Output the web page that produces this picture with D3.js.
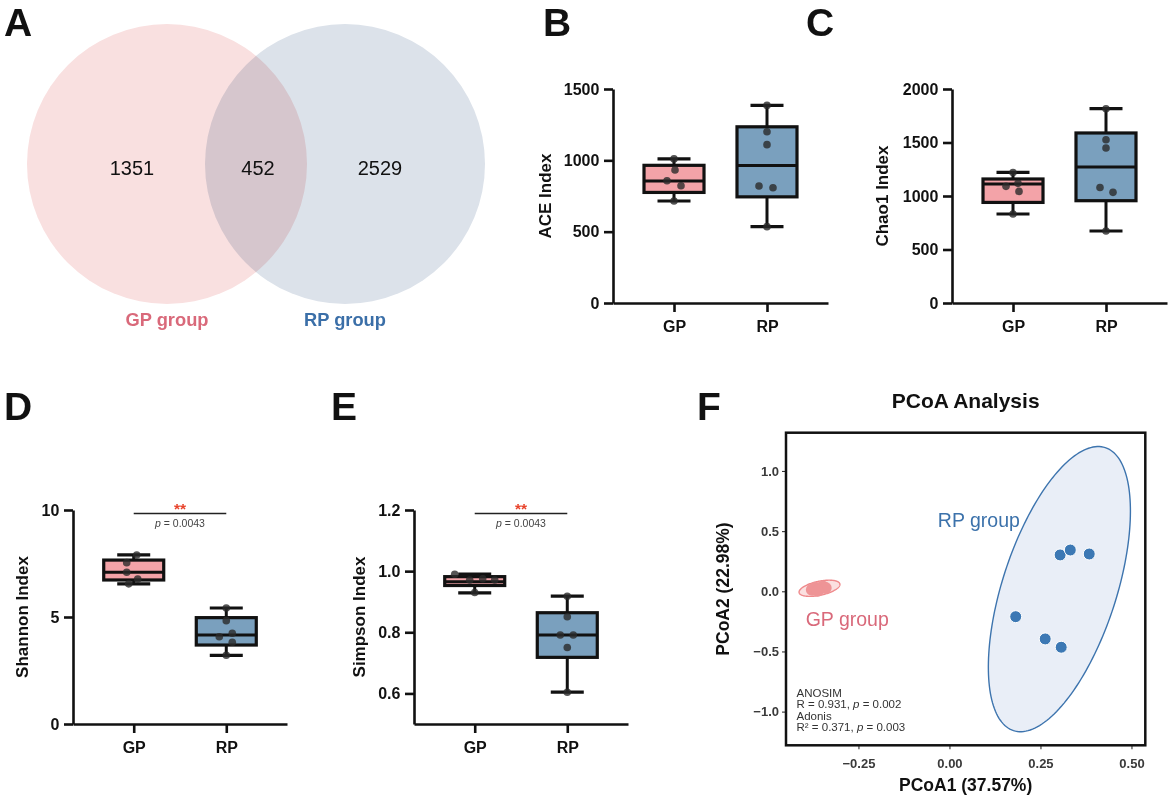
<!DOCTYPE html>
<html>
<head>
<meta charset="utf-8">
<title>Diversity panels</title>
<style type="text/css">
    body, html {margin:0;background:#fff;}
    svg {font-family:"Liberation Sans", Arial, sans-serif;}
</style>
<script src="https://cdn.jsdelivr.net/npm/d3@7/dist/d3.min.js"></script>
</head>
<body>
<script>
// ---- data ----
var groups = ["GP", "RP"];

// Venn (A)
var vennSets = ["GP group", "RP group"];
var vennCounts = [1351, 452, 2529];   // GP only, shared, RP only

// ACE (B)  box = [min, q1, median, q3, max]
var aceGP = [1010, 932, 857, 822, 715];
var aceRP = [1385, 1200, 1110, 820, 808, 535];
var aceBoxGP = [715, 775, 855, 965, 1010];
var aceBoxRP = [535, 744, 963, 1235, 1385];

// Chao1 (C)
var chaoGP = [1220, 1118, 1090, 1043, 832];
var chaoRP = [1816, 1526, 1449, 1080, 1034, 673];
var chaoBoxGP = [832, 940, 1112, 1159, 1220];
var chaoBoxRP = [673, 956, 1271, 1589, 1816];

// Shannon (D)
var shanGP = [7.9, 7.54, 7.09, 6.77, 6.55];
var shanRP = [5.42, 4.83, 4.24, 4.08, 3.82, 3.21];
var shanBoxGP = [6.55, 6.73, 7.09, 7.66, 7.9];
var shanBoxRP = [3.21, 3.69, 4.16, 4.97, 5.42];

// Simpson (E)
var simGP = [0.99, 0.975, 0.971, 0.971, 0.93];
var simRP = [0.918, 0.851, 0.791, 0.791, 0.75, 0.604];
var simBoxGP = [0.929, 0.953, 0.965, 0.982, 0.99];
var simBoxRP = [0.604, 0.718, 0.791, 0.864, 0.918];

var pText = "0.0043";

// PCoA (F)
var gpPc1 = [-0.378, -0.368, -0.357, -0.348, -0.34, -0.362];
var gpPc2 = [0.012, 0.03, 0.022, 0.04, 0.028, 0.005];
var rpPc1 = [0.304, 0.332, 0.384, 0.182, 0.263, 0.307];
var rpPc2 = [0.302, 0.343, 0.31, -0.211, -0.396, -0.465];
// ellipse: centre, then two conjugate half-axis vectors (data units)
var gpEllipse = [[-0.357, 0.025], [0.056, 0.036], [0.004, -0.057]];
var rpEllipse = [[0.302, 0.018], [0.126, 1.176], [0.149, -0.146]];
var pcoaStats = ["ANOSIM", "R = 0.931, |p| = 0.002", "Adonis", "R² = 0.371, |p| = 0.003"];

// ---- colours ----
var gpFill = "#f3a3a8", rpFill = "#7aa0be";
var gpText = "#d9697a", rpText = "#3b6fa8";

var svg = d3.select("body").append("svg").attr("width", 1170).attr("height", 806);

// panel letters
[["A", 4, 36], ["B", 543, 36], ["C", 806, 36], ["D", 4, 420], ["E", 331, 420], ["F", 697, 420]].forEach(function (l) {
    svg.append("text").attr("x", l[1]).attr("y", l[2]).text(l[0])
        .attr("font-size", 39).attr("font-weight", "bold").attr("fill", "#111");
});

// ---------- A: Venn ----------
(function () {
    var cy = 164, r = 140, c1 = 167, c2 = 345;
    var g = svg.append("g");
    g.append("circle").attr("cx", c1).attr("cy", cy).attr("r", r).attr("fill", "#f9e0e0");
    g.append("circle").attr("cx", c2).attr("cy", cy).attr("r", r).attr("fill", "#dce2ea")
        .style("mix-blend-mode", "multiply");
    var nx = [c1 - 35, (c1 + c2) / 2 + 2, c2 + 35];
    vennCounts.forEach(function (v, i) {
        g.append("text").attr("x", nx[i]).attr("y", 175).attr("text-anchor", "middle")
            .attr("font-size", 20).attr("fill", "#111").text(v);
    });
    [c1, c2].forEach(function (cx, i) {
        g.append("text").attr("x", cx).attr("y", 326).attr("text-anchor", "middle")
            .attr("font-size", 18.3).attr("font-weight", "bold")
            .attr("fill", i == 0 ? gpText : rpText).text(vennSets[i]);
    });
})();

// ---------- box panels ----------
function boxPanel(o) {
    var g = svg.append("g");
    var x = d3.scalePoint().domain(groups).range([o.x0, o.x1]).padding(0.656);
    var y = d3.scaleLinear().domain(o.domain).range([o.yBot, o.yTop]);

    var ya = g.append("g").attr("transform", "translate(" + o.x0 + ",0)")
        .call(d3.axisLeft(y).tickValues(o.ticks).tickSize(9).tickSizeOuter(0).tickFormat(d3.format(o.fmt)));
    var xa = g.append("g").attr("transform", "translate(0," + o.yBot + ")")
        .call(d3.axisBottom(x).tickSize(9).tickSizeOuter(0));
    [ya, xa].forEach(function (a) {
        a.select(".domain").attr("stroke", "#111").attr("stroke-width", 2.6);
        a.selectAll(".tick line").attr("stroke", "#111").attr("stroke-width", 2.6);
        a.selectAll(".tick text").attr("font-size", 16).attr("font-weight", "bold")
            .attr("fill", "#111").attr("font-family", null);
    });
    ya.selectAll(".tick text").attr("dx", "-0.1em");
    xa.selectAll(".tick text").attr("dy", "1.05em");

    g.append("text")
        .attr("transform", "translate(" + (o.x0 - o.labOff) + "," + (o.yTop + o.yBot) / 2 + ") rotate(-90)")
        .attr("text-anchor", "middle").attr("font-size", 17).attr("font-weight", "bold").attr("fill", "#111")
        .text(o.label);

    var boxW = 60, capW = 33;
    groups.forEach(function (grp, i) {
        var s = o.box[i], cx = x(grp);
        var bg = g.append("g");
        bg.append("line").attr("x1", cx).attr("x2", cx).attr("y1", y(s[0])).attr("y2", y(s[4]))
            .attr("stroke", "#111").attr("stroke-width", 3);
        [s[0], s[4]].forEach(function (v) {
            bg.append("line").attr("x1", cx - capW / 2).attr("x2", cx + capW / 2).attr("y1", y(v)).attr("y2", y(v))
                .attr("stroke", "#111").attr("stroke-width", 3.2);
        });
        bg.append("rect").attr("x", cx - boxW / 2).attr("width", boxW)
            .attr("y", y(s[3])).attr("height", y(s[1]) - y(s[3]))
            .attr("fill", i == 0 ? gpFill : rpFill).attr("stroke", "#111").attr("stroke-width", 3.2);
        bg.append("line").attr("x1", cx - boxW / 2).attr("x2", cx + boxW / 2).attr("y1", y(s[2])).attr("y2", y(s[2]))
            .attr("stroke", "#111").attr("stroke-width", 3);
        bg.selectAll("circle.pt").data(o.pts[i]).enter().append("circle").attr("class", "pt")
            .attr("cx", function (d, j) { return cx + o.jit[i][j]; })
            .attr("cy", function (d) { return y(d); })
            .attr("r", 3.8).attr("fill", "#2b2b2b").attr("fill-opacity", 0.8);
    });

    if (o.sig) {
        var sy = o.yTop + 3.5;
        g.append("line").attr("x1", x("GP")).attr("x2", x("RP")).attr("y1", sy).attr("y2", sy)
            .attr("stroke", "#222").attr("stroke-width", 1.4);
        g.append("text").attr("x", (x("GP") + x("RP")) / 2).attr("y", sy + 0.5).attr("text-anchor", "middle")
            .attr("font-size", 15.5).attr("font-weight", "bold").attr("fill", "#e8432b").text("**");
        var t = g.append("text").attr("x", (x("GP") + x("RP")) / 2).attr("y", sy + 13.8).attr("text-anchor", "middle")
            .attr("font-size", 10.5).attr("fill", "#444");
        t.append("tspan").attr("font-style", "italic").text("p");
        t.append("tspan").text(" = " + pText);
    }
}

boxPanel({x0: 613, x1: 828, yTop: 89, yBot: 303, domain: [0, 1500], ticks: [0, 500, 1000, 1500], fmt: "d",
    label: "ACE Index", labOff: 62, box: [aceBoxGP, aceBoxRP], pts: [aceGP, aceRP],
    jit: [[0, 1, -7, 7, 0], [0, 0, 0, -8, 6, 0]]});
boxPanel({x0: 952, x1: 1167, yTop: 89, yBot: 303, domain: [0, 2000], ticks: [0, 500, 1000, 1500, 2000], fmt: "d",
    label: "Chao1 Index", labOff: 64, box: [chaoBoxGP, chaoBoxRP], pts: [chaoGP, chaoRP],
    jit: [[0, 5, -7, 6, 0], [0, 0, 0, -6, 7, 0]]});
boxPanel({x0: 73, x1: 287, yTop: 510, yBot: 724, domain: [0, 10], ticks: [0, 5, 10], fmt: "d",
    label: "Shannon Index", labOff: 45, box: [shanBoxGP, shanBoxRP], pts: [shanGP, shanRP], sig: true,
    jit: [[3, -7, -7, 4, -5], [0, 0, 6, -7, 6, 0]]});
boxPanel({x0: 414, x1: 628, yTop: 510, yBot: 724, domain: [0.5, 1.2], ticks: [0.6, 0.8, 1.0, 1.2], fmt: ".1f",
    label: "Simpson Index", labOff: 49, box: [simBoxGP, simBoxRP], pts: [simGP, simRP], sig: true,
    jit: [[-20, 8, -5, 20, 0], [0, 0, -7, 6, 0, 0]]});

// ---------- F: PCoA ----------
(function () {
    var L = 786, R = 1145.3, T = 432.7, B = 745.3;
    var px = d3.scaleLinear().domain([-0.449, 0.538]).range([L, R]);
    var py = d3.scaleLinear().domain([-1.28, 1.318]).range([B, T]);
    var g = svg.append("g");

    function ellipsePath(e) {
        var pts = d3.range(0, 2 * Math.PI, Math.PI / 90).map(function (t) {
            return [px(e[0][0] + Math.cos(t) * e[1][0] + Math.sin(t) * e[2][0]),
                    py(e[0][1] + Math.cos(t) * e[1][1] + Math.sin(t) * e[2][1])];
        });
        return d3.line().curve(d3.curveLinearClosed)(pts);
    }
    g.append("path").attr("d", ellipsePath(rpEllipse)).attr("fill", "#e9eef7")
        .attr("stroke", "#3d74ae").attr("stroke-width", 1.4);
    g.append("path").attr("d", ellipsePath(gpEllipse)).attr("fill", "#fbe0e0")
        .attr("stroke", "#ef8a8c").attr("stroke-width", 1.4);

    g.selectAll("circle.gp").data(gpPc1).enter().append("circle").attr("class", "gp")
        .attr("cx", function (d) { return px(d); })
        .attr("cy", function (d, i) { return py(gpPc2[i]); })
        .attr("r", 6).attr("fill", "#ee9496");
    g.selectAll("circle.rp").data(rpPc1).enter().append("circle").attr("class", "rp")
        .attr("cx", function (d) { return px(d); })
        .attr("cy", function (d, i) { return py(rpPc2[i]); })
        .attr("r", 6).attr("fill", "#3c78b4").attr("stroke", "#fff").attr("stroke-width", 1);

    g.append("text").attr("x", px(-0.032)).attr("y", py(0.535)).attr("font-size", 19.5)
        .attr("fill", "#3c72ab").text("RP group");
    g.append("text").attr("x", px(-0.395)).attr("y", py(-0.288)).attr("font-size", 19.5)
        .attr("fill", gpText).text("GP group");

    var st = g.append("text").attr("font-size", 11.5).attr("fill", "#333");
    pcoaStats.forEach(function (s, i) {
        var ts = st.append("tspan").attr("x", L + 10.5).attr("y", 697 + i * 11.3);
        s.split("|").forEach(function (part, k) {
            ts.append("tspan").attr("font-style", k == 1 ? "italic" : null).text(part);
        });
    });

    var xa = g.append("g").attr("transform", "translate(0," + B + ")")
        .call(d3.axisBottom(px).tickValues([-0.25, 0, 0.25, 0.5]).tickSize(4).tickSizeOuter(0).tickFormat(d3.format(".2f")));
    var ya = g.append("g").attr("transform", "translate(" + L + ",0)")
        .call(d3.axisLeft(py).tickValues([-1, -0.5, 0, 0.5, 1]).tickSize(4).tickSizeOuter(0).tickFormat(d3.format(".1f")));
    [xa, ya].forEach(function (a) {
        a.select(".domain").remove();
        a.selectAll(".tick line").attr("stroke", "#333").attr("stroke-width", 1.1);
        a.selectAll(".tick text").attr("font-size", 13).attr("font-weight", "bold")
            .attr("fill", "#3a3a3a").attr("font-family", null);
    });
    xa.selectAll(".tick text").attr("dy", "1.2em");

    g.append("rect").attr("x", L).attr("y", T).attr("width", R - L).attr("height", B - T)
        .attr("fill", "none").attr("stroke", "#111").attr("stroke-width", 2.5);

    g.append("text").attr("x", (L + R) / 2).attr("y", 408).attr("text-anchor", "middle")
        .attr("font-size", 21).attr("font-weight", "bold").attr("fill", "#111").text("PCoA Analysis");
    g.append("text").attr("x", (L + R) / 2).attr("y", 791).attr("text-anchor", "middle")
        .attr("font-size", 17.5).attr("font-weight", "bold").attr("fill", "#111").text("PCoA1 (37.57%)");
    g.append("text").attr("transform", "translate(729," + (T + B) / 2 + ") rotate(-90)")
        .attr("text-anchor", "middle").attr("font-size", 17.5).attr("font-weight", "bold")
        .attr("fill", "#111").text("PCoA2 (22.98%)");
})();
</script>
</body>
</html>
